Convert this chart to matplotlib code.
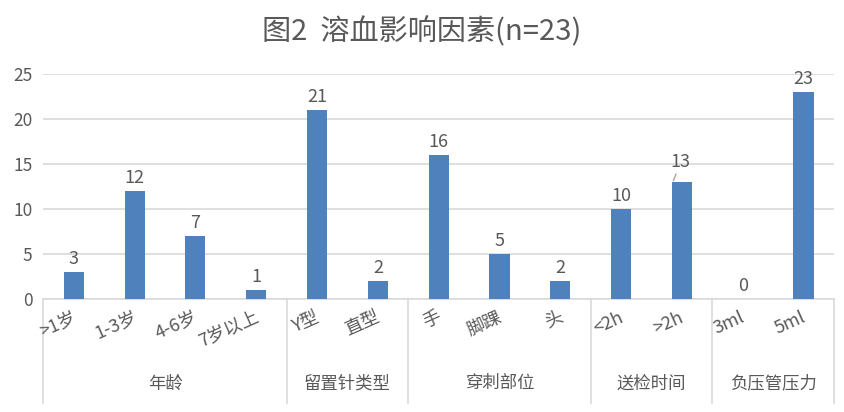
import matplotlib

matplotlib.use("Agg")
import matplotlib.pyplot as plt  # noqa: E402
import matplotlib.transforms as mtransforms  # noqa: E402
import numpy as np  # noqa: E402

plt.rcParams["font.family"] = ["Noto Sans CJK SC", "DejaVu Sans"]

TITLE = "图2  溶血影响因素(n=23)"
categories = [">1岁", "1-3岁", "4-6岁", "7岁以上", "Y型", "直型", "手", "脚踝", "头",
              "<2h", ">2h", "3ml", "5ml"]
values = [3, 12, 7, 1, 21, 2, 16, 5, 2, 10, 13, 0, 23]
groups = ["年龄", "留置针类型", "穿刺部位", "送检时间", "负压管压力"]
group_sizes = [4, 2, 3, 2, 2]
yticks = [0, 5, 10, 15, 20, 25]

BAR = "#4f81bd"
TXT = "#595959"
GRID = "#d9d9d9"

fig = plt.figure(figsize=(8.44, 4.12), dpi=100)
ax = fig.add_axes([0.0515, 0.274, 0.9365, 0.546])

x = np.arange(len(categories))
ax.bar(x, values, width=0.33, color=BAR, zorder=3)
ax.set_xlim(-0.5, len(categories) - 0.5)
ax.set_ylim(0, 25)
ax.set_yticks(yticks)
ax.tick_params(axis="y", length=0, labelsize=12.5, labelcolor=TXT, pad=8)
ax.set_xticks([])
ax.grid(axis="y", color=GRID, linewidth=1.2, zorder=0)
for side in ("left", "right", "top"):
    ax.spines[side].set_visible(False)
ax.spines["bottom"].set_color(GRID)
ax.spines["bottom"].set_linewidth(1.2)

# data labels
for xi, v in zip(x, values):
    if categories[xi] == ">2h":
        ax.annotate(str(v), xy=(xi - 0.14, v + 0.15), xytext=(xi - 0.02, v + 2.2),
                    ha="center", va="center", fontsize=13, color=TXT,
                    arrowprops=dict(arrowstyle="-", color="#a6a6a6", lw=1.0, shrinkA=6, shrinkB=0))
    else:
        ax.text(xi, v + 0.5, str(v), ha="center", va="bottom", fontsize=13, color=TXT)

trans = mtransforms.blended_transform_factory(ax.transData, ax.transAxes)

# category labels, rotated
for xi, lab in zip(x, categories):
    ax.text(xi - 0.04, -0.04, lab, transform=trans, rotation=24, rotation_mode="anchor",
            ha="right", va="top", fontsize=13, color=TXT)

# group separators and labels
bounds = np.concatenate([[0], np.cumsum(group_sizes)]) - 0.5
for b in bounds:
    ax.plot([b, b], [0, -0.46], transform=trans, color=GRID, lw=1.2, clip_on=False)
for g, lo, hi in zip(groups, bounds[:-1], bounds[1:]):
    ax.text((lo + hi) / 2, -0.375, g, transform=trans, ha="center", va="center",
            fontsize=12.5, color=TXT)

fig.text(0.5, 0.922, TITLE, ha="center", va="center", fontsize=21, color=TXT)

fig.savefig("out.png", dpi=100)
